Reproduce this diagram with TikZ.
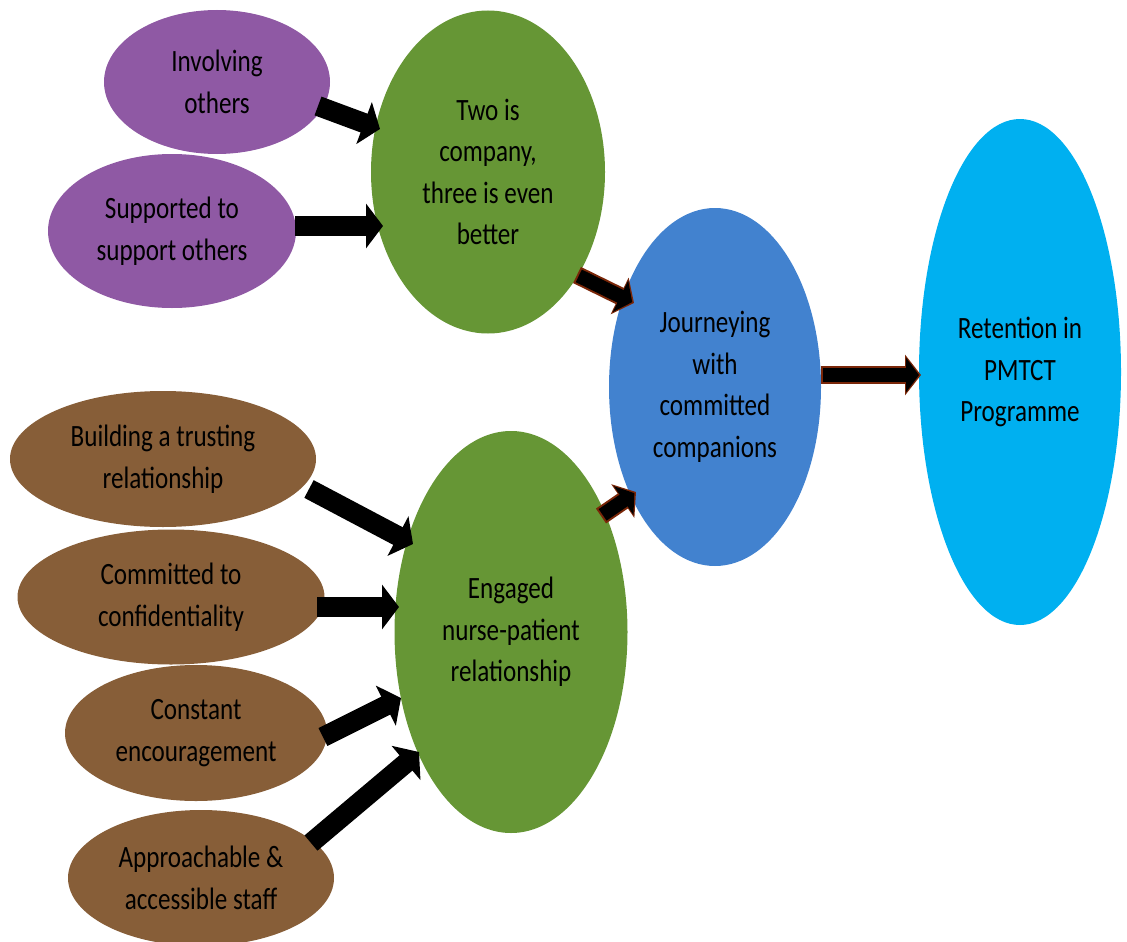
\documentclass[tikz,border=0pt]{standalone}
\usepackage{fontspec}
\setmainfont{Carlito}[FakeStretch=0.81]
\usetikzlibrary{arrows.meta,shapes.geometric}
\definecolor{cpurple}{HTML}{8F59A4}
\definecolor{cgreen}{HTML}{669635}
\definecolor{cbrown}{HTML}{875E38}
\definecolor{cblue}{HTML}{4282CF}
\definecolor{ccyan}{HTML}{00B0F0}
\definecolor{coutline}{HTML}{7A2608}
\tikzset{
  bubble/.style={ellipse, inner sep=0pt, align=center, text=black,
    font=\fontsize{31}{41.5}\selectfont},
  blockarrow/.style={draw=black, line width=20pt,
    -{Triangle[length=17pt,width=44pt]}},
  outlinearrow/.style={draw=coutline, line width=18pt,
    -{Triangle[length=16pt,width=40pt]}},
  innerarrow/.style={draw=black, line width=14pt, shorten >=2pt, shorten <=2pt,
    -{Triangle[length=13pt,width=34pt]}}
}
\begin{document}
\begin{tikzpicture}[x=1pt,y=-1pt]
\useasboundingbox (0,0) rectangle (1127,942);
% nodes
\node[bubble, fill=cpurple, minimum width=226pt, minimum height=144pt] (inv) at (217,82) {Involving\\others};
\node[bubble, fill=cpurple, minimum width=248pt, minimum height=154pt] (sup) at (172,231) {Supported to\\support others};
\node[bubble, fill=cgreen, minimum width=234pt, minimum height=323pt] (two) at (488,172) {Two is\\company,\\three is even\\better};
\node[bubble, fill=cblue, minimum width=212pt, minimum height=358pt] (jour) at (715,387) {Journeying\\with\\committed\\companions};
\node[bubble, fill=ccyan, minimum width=202pt, minimum height=506pt] (ret) at (1020,372) {Retention in\\PMTCT\\Programme};
\node[bubble, fill=cgreen, minimum width=233pt, minimum height=402pt] (eng) at (511,632) {Engaged\\nurse-patient\\relationship};
\node[bubble, fill=cbrown, minimum width=306pt, minimum height=136pt] (bld) at (163,459) {Building a trusting\\relationship};
\node[bubble, fill=cbrown, minimum width=307pt, minimum height=135pt] (com) at (171,597) {Committed to\\confidentiality};
\node[bubble, fill=cbrown, minimum width=262pt, minimum height=136pt] (con) at (196,733) {Constant\\encouragement};
\node[bubble, fill=cbrown, minimum width=266pt, minimum height=136pt] (app) at (201,878) {Approachable \&\\accessible staff};
% connector end points
\coordinate (invS) at (318,106);  \coordinate (invE) at (380,129);
\coordinate (supS) at (295,226);  \coordinate (supE) at (383,226);
\coordinate (twoS) at (577,275);  \coordinate (twoE) at (634,303);
\coordinate (engS) at (601,516);  \coordinate (engE) at (636,492);
\coordinate (jourS) at (821,375); \coordinate (jourE) at (921,375);
\coordinate (bldS) at (309,489);  \coordinate (bldE) at (413,544);
\coordinate (comS) at (317,607);  \coordinate (comE) at (399,607);
\coordinate (conS) at (323,737);  \coordinate (conE) at (401,698);
\coordinate (appS) at (311,843);  \coordinate (appE) at (419,752);
% black block arrows
\draw[blockarrow] (invS) -- (invE);
\draw[blockarrow] (supS) -- (supE);
\draw[blockarrow] (bldS) -- (bldE);
\draw[blockarrow] (comS) -- (comE);
\draw[blockarrow] (conS) -- (conE);
\draw[blockarrow] (appS) -- (appE);
% outlined block arrows
\foreach \s/\e in {twoS/twoE, engS/engE, jourS/jourE} {
  \draw[outlinearrow] (\s) -- (\e);
  \draw[innerarrow] (\s) -- (\e);
}
\end{tikzpicture}
\end{document}
